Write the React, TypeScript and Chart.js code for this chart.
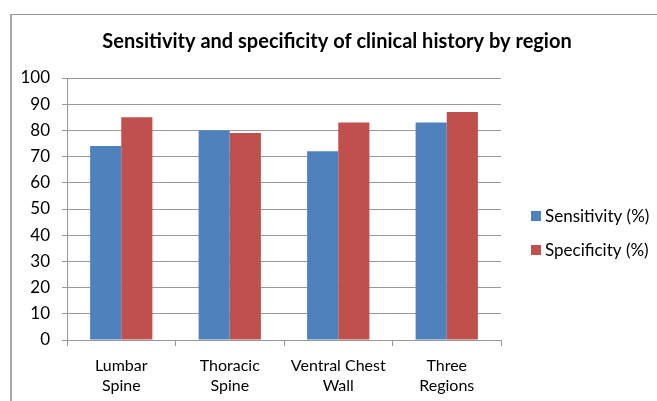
import React, { useEffect, useRef } from "react";
import { Chart, registerables } from "chart.js";

Chart.register(...registerables);

const categories: string[][] = [
  ["Lumbar", "Spine"],
  ["Thoracic", "Spine"],
  ["Ventral Chest", "Wall"],
  ["Three", "Regions"],
];
const sensitivity: number[] = [74, 80, 72, 83];
const specificity: number[] = [85, 79, 83, 87];
const seriesNames: string[] = ["Sensitivity (%)", "Specificity (%)"];
const titleText = "Sensitivity and specificity of clinical history by region";

const FONT = "Lato, 'Noto Sans', sans-serif";

const overlayPlugin = {
  id: "overlay",
  afterDraw(chart: any) {
    const ctx = chart.ctx;
    ctx.save();
    // title
    ctx.font = `bold 20px ${FONT}`;
    ctx.fillStyle = "#000";
    ctx.textAlign = "center";
    ctx.textBaseline = "alphabetic";
    ctx.fillText(chart.options.plugins.title.text, 337, 48);
    // legend
    ctx.font = `17px ${FONT}`;
    ctx.textBaseline = "middle";
    ctx.textAlign = "left";
    const ys = [216, 250];
    chart.data.datasets.forEach((ds: any, i: number) => {
      ctx.fillStyle = ds.backgroundColor;
      ctx.fillRect(531, ys[i] - 5, 10, 10);
      ctx.fillStyle = "#000";
      ctx.fillText(ds.label, 545, ys[i] + 1);
    });
    ctx.restore();
  },
};

export default function App() {
  const ref = useRef<HTMLCanvasElement>(null);
  useEffect(() => {
    if (!ref.current) return;
    const chart = new Chart(ref.current, {
      type: "bar",
      data: {
        labels: categories,
        datasets: [
          { label: seriesNames[0], data: sensitivity, backgroundColor: "#4F81BD" },
          { label: seriesNames[1], data: specificity, backgroundColor: "#C0504D" },
        ],
      },
      options: {
        animation: false,
        responsive: false,
        maintainAspectRatio: false,
        datasets: { bar: { categoryPercentage: 0.574, barPercentage: 1 } },
        layout: { padding: { left: 0, right: 156, top: 78, bottom: 0 } },
        plugins: {
          legend: { display: false },
          tooltip: { enabled: false },
          title: { display: false, text: titleText },
        },
        scales: {
          x: {
            afterFit: (s: any) => {
              s.height = 61;
            },
            grid: { display: true, drawOnChartArea: false, offset: true, tickLength: 6, color: "#999" },
            border: { color: "#999" },
            ticks: {
              color: "#000",
              font: { family: FONT, size: 16, lineHeight: 1.3 },
              padding: 9,
              maxRotation: 0,
              autoSkip: false,
            },
          },
          y: {
            min: 0,
            max: 100,
            afterFit: (s: any) => {
              s.width = 67;
            },
            ticks: { stepSize: 10, color: "#000", font: { family: FONT, size: 17 }, padding: 12 },
            grid: { color: "#999", tickLength: 5 },
            border: { color: "#999" },
          },
        },
      },
      plugins: [overlayPlugin],
    });
    return () => chart.destroy();
  }, []);
  return (
    <div style={{ position: "fixed", left: 0, top: 0, width: 657, height: 401, background: "#fff", overflow: "hidden" }}>
      <div
        style={{
          position: "absolute",
          left: 10,
          top: 14,
          width: 700,
          height: 500,
          borderLeft: "2px solid #aaa",
          borderTop: "1px solid #999",
        }}
      />
      <canvas ref={ref} width={657} height={401} style={{ position: "absolute", left: 0, top: 0 }} />
    </div>
  );
}
